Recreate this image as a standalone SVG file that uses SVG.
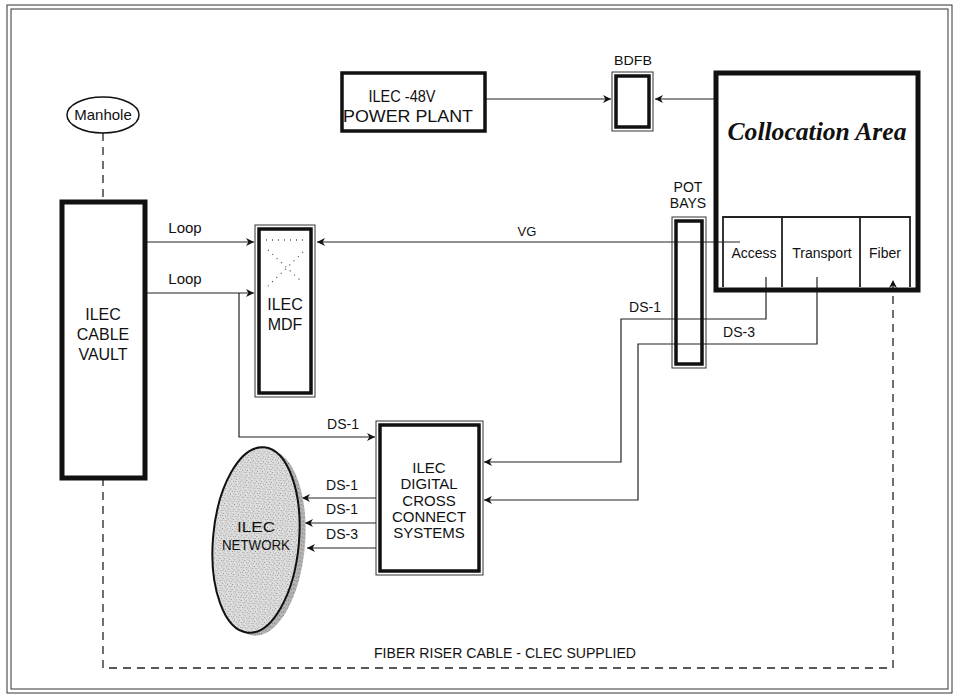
<svg xmlns="http://www.w3.org/2000/svg" width="958" height="697" viewBox="0 0 958 697">
<defs>
<marker id="ah" viewBox="0 0 10 10" refX="10" refY="5" markerWidth="8" markerHeight="8" markerUnits="userSpaceOnUse" orient="auto">
<path d="M0,0 L10,5 L0,10 L3,5 Z" fill="#111"/>
</marker>
<pattern id="speck" width="5" height="5" patternUnits="userSpaceOnUse">
<rect width="5" height="5" fill="#dedede"/>
<rect x="1" y="1" width="1" height="1" fill="#8a8a8a"/>
<rect x="3" y="3" width="1" height="1" fill="#9a9a9a"/>
<rect x="4" y="0" width="1" height="1" fill="#b0b0b0"/>
<rect x="0" y="3" width="1" height="1" fill="#a5a5a5"/>
</pattern>
<pattern id="speck2" width="4" height="4" patternUnits="userSpaceOnUse">
<rect width="4" height="4" fill="#b5b5b5"/>
<rect x="1" y="1" width="1" height="1" fill="#6f6f6f"/>
<rect x="3" y="2" width="1" height="1" fill="#858585"/>
</pattern>
<style>
.t{font-family:"Liberation Sans",Arial,sans-serif;fill:#111;text-anchor:middle}
.ln{fill:none;stroke:#222;stroke-width:1.2}
.dash{fill:none;stroke:#222;stroke-width:1.3;stroke-dasharray:8 6}
.thin{fill:none;stroke:#333;stroke-width:1}
.thick{fill:none;stroke:#111;stroke-width:3.5}
.heavy{fill:none;stroke:#111;stroke-width:5}
</style>
</defs>
<rect width="958" height="697" fill="#fff"/>
<g id="frame">
<rect x="7" y="5" width="945" height="688" class="thin" stroke-width="1.5"/>
<rect x="11" y="9" width="937" height="680" class="thin"/>
</g>
<g id="connectors">
<path class="dash" d="M103,133 V202"/>
<path class="dash" d="M103,478 V668 H893 V280" marker-end="url(#ah)"/>
<path class="ln" d="M485,99 H611" marker-end="url(#ah)"/>
<path class="ln" d="M716,99 H655" marker-end="url(#ah)"/>
<path class="ln" d="M145,242 H254" marker-end="url(#ah)"/>
<path class="ln" d="M145,293 H254" marker-end="url(#ah)"/>
<path class="ln" d="M740,242 H317" marker-end="url(#ah)"/>
<path class="ln" d="M239,293 V437 H375" marker-end="url(#ah)"/>
<path class="ln" d="M766,277 V319 H621 V462 H484" marker-end="url(#ah)"/>
<path class="ln" d="M817,277 V344 H638 V500 H484" marker-end="url(#ah)"/>
<path class="ln" d="M376,498 H302" marker-end="url(#ah)"/>
<path class="ln" d="M376,523 H305" marker-end="url(#ah)"/>
<path class="ln" d="M376,548 H307" marker-end="url(#ah)"/>
<text class="t" x="185" y="233" font-size="15">Loop</text>
<text class="t" x="185" y="284" font-size="15">Loop</text>
<text class="t" x="527" y="236" font-size="13">VG</text>
<text class="t" x="645" y="312" font-size="14">DS-1</text>
<text class="t" x="739" y="337" font-size="14">DS-3</text>
<text class="t" x="343" y="429" font-size="14">DS-1</text>
<text class="t" x="342" y="490" font-size="14">DS-1</text>
<text class="t" x="342" y="514" font-size="14">DS-1</text>
<text class="t" x="342" y="539" font-size="14">DS-3</text>
<text class="t" x="505" y="658" font-size="14" textLength="262" lengthAdjust="spacingAndGlyphs">FIBER RISER CABLE - CLEC SUPPLIED</text>
</g>
<g id="manhole">
<ellipse cx="103" cy="115" rx="36" ry="18" fill="#fff" stroke="#111" stroke-width="1.5"/>
<text class="t" x="103" y="120" font-size="15">Manhole</text>
</g>
<g id="cable-vault">
<rect x="62" y="202" width="83" height="276" class="heavy"/>
<text class="t" x="103" y="320" font-size="16">ILEC</text>
<text class="t" x="103" y="340" font-size="16">CABLE</text>
<text class="t" x="103" y="360" font-size="16">VAULT</text>
</g>
<g id="power-plant">
<rect x="342" y="73" width="143" height="58" class="thick" stroke-width="4"/>
<text class="t" x="402" y="102" font-size="17" textLength="67" lengthAdjust="spacingAndGlyphs">ILEC -48V</text>
<text class="t" x="408" y="122" font-size="17" textLength="130" lengthAdjust="spacingAndGlyphs">POWER PLANT</text>
</g>
<g id="bdfb">
<text class="t" x="633" y="65" font-size="13" textLength="38" lengthAdjust="spacingAndGlyphs">BDFB</text>
<rect x="612" y="72" width="41" height="59" class="thin"/>
<rect x="616" y="76" width="33" height="51" class="thick" stroke-width="3"/>
</g>
<g id="collocation">
<rect x="716" y="73" width="202" height="217" class="heavy"/>
<text x="817" y="140" font-family="'Liberation Serif','Times New Roman',serif" font-weight="bold" font-style="italic" font-size="25" text-anchor="middle" textLength="179" lengthAdjust="spacingAndGlyphs" fill="#111">Collocation Area</text>
<path d="M723,287 V217 H910 V287 M782,217 V287 M860,217 V287" fill="none" stroke="#222" stroke-width="1.8"/>
<text class="t" x="754" y="258" font-size="14">Access</text>
<text class="t" x="822" y="258" font-size="14">Transport</text>
<text class="t" x="885" y="258" font-size="14">Fiber</text>
</g>
<g id="pot-bays">
<text class="t" x="688" y="192" font-size="14">POT</text>
<text class="t" x="688" y="208" font-size="14">BAYS</text>
<rect x="672" y="217" width="34" height="151" class="thin"/>
<rect x="676" y="221" width="26" height="143" class="thick" stroke-width="3"/>
</g>
<g id="mdf">
<rect x="255" y="225" width="60" height="172" class="thin"/>
<rect x="259" y="229" width="52" height="164" class="thick" stroke-width="3"/>
<path d="M266,240 H306 M268,250 L302,282 M303,252 L268,286" fill="none" stroke="#555" stroke-width="1.3" stroke-dasharray="1 5"/>
<text class="t" x="285" y="310" font-size="16">ILEC</text>
<text class="t" x="285" y="330" font-size="16">MDF</text>
</g>
<g id="dcs">
<rect x="376" y="421" width="107" height="154" class="thin"/>
<rect x="380" y="425" width="99" height="146" class="thick" stroke-width="3"/>
<text class="t" x="429" y="473" font-size="15">ILEC</text>
<text class="t" x="429" y="489" font-size="15">DIGITAL</text>
<text class="t" x="429" y="506" font-size="15">CROSS</text>
<text class="t" x="429" y="522" font-size="15">CONNECT</text>
<text class="t" x="429" y="538" font-size="15">SYSTEMS</text>
</g>
<g id="ilec-network">
<ellipse cx="262" cy="543" rx="43" ry="93" transform="rotate(5 262 543)" fill="url(#speck2)"/>
<ellipse cx="256" cy="540" rx="43" ry="93" transform="rotate(5 256 540)" fill="url(#speck)" stroke="#111" stroke-width="2"/>
<text class="t" x="256" y="532" font-size="15" textLength="38" lengthAdjust="spacingAndGlyphs">ILEC</text>
<text class="t" x="256" y="550" font-size="15" textLength="68" lengthAdjust="spacingAndGlyphs">NETWORK</text>
</g>
</svg>
